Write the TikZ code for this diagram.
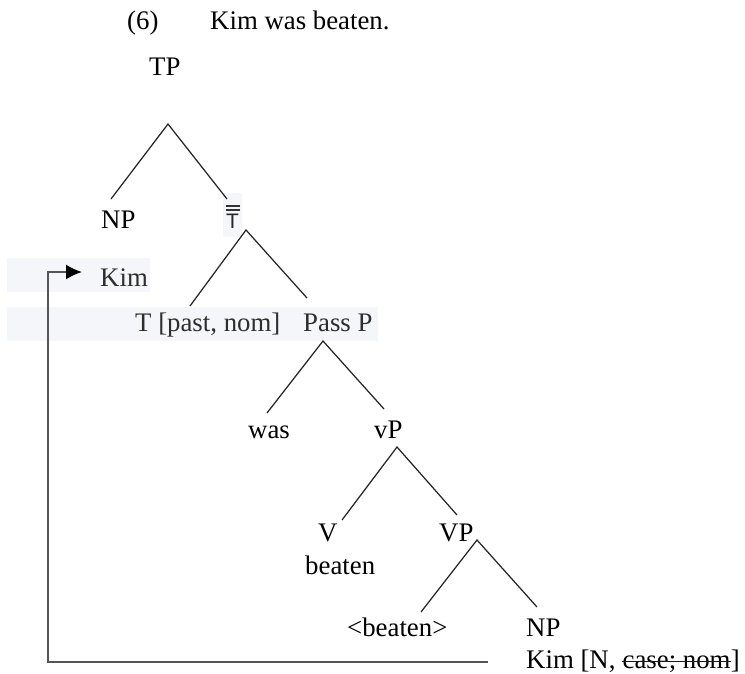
\documentclass[tikz,border=0pt]{standalone}
\usepackage{fontspec}
\setmainfont{Liberation Serif}
\newfontfamily\barfont{Liberation Sans}
\usetikzlibrary{arrows.meta}
\definecolor{bandgrey}{RGB}{245,246,249}
\definecolor{movegrey}{RGB}{85,85,85}

\begin{document}
\begin{tikzpicture}[x=1pt,y=-1pt,
  lbl/.style={anchor=base west,inner sep=0pt,font=\fontsize{26.8}{30}\selectfont,text=black},
  softlbl/.style={lbl,text=black!82},
  branch/.style={draw=black!85,line width=1.25pt},
  barline/.style={draw=black!80,line width=1.6pt},
  strike/.style={draw=black!90,line width=1.3pt},
  movepath/.style={draw=movegrey,line width=1.8pt,
    -{Latex[length=16pt,width=15pt,fill=black,color=black]}}]

\useasboundingbox (0,0) rectangle (745,673);

% light highlight bands behind the moved subject, the T line and T-bar
\fill[bandgrey] (7,258) rectangle (150,292);
\fill[bandgrey] (7,307) rectangle (378,341);
\fill[bandgrey] (223,193) rectangle (242,237);

% example number and sentence
\node[lbl] (ex) at (127,29) {(6)};
\node[lbl] (sent) at (210,29) {Kim was beaten.};

% tree labels
\node[lbl] (tp) at (149,75) {TP};
\node[lbl] (np1) at (101,228) {NP};
\node[lbl,font=\barfont\fontsize{21}{24}\selectfont,text=black!85] (tbar) at (226,228) {T};
\draw[barline] ([yshift=3.5pt,xshift=-0.5pt]tbar.north west) -- ([yshift=3.5pt,xshift=0.5pt]tbar.north east);
\draw[barline] ([yshift=7.5pt,xshift=-0.5pt]tbar.north west) -- ([yshift=7.5pt,xshift=0.5pt]tbar.north east);
\node[softlbl] (kimhi) at (100,286) {Kim};
\node[softlbl] (tpast) at (135,331) {T [past, nom]};
\node[softlbl] (passp) at (303,331) {Pass P};
\node[lbl] (was) at (248,438) {was};
\node[lbl] (vp1) at (374,438) {vP};
\node[lbl] (v) at (318,541) {V};
\node[lbl] (vpbig) at (439,541) {VP};
\node[lbl] (beaten) at (305,574) {beaten};
\node[lbl] (trace) at (347,636) {<beaten>};
\node[lbl] (np2) at (526,636) {NP};

% bottom feature bundle, with the checked case feature struck out
\node[lbl] (kimlo) at (526,668) {Kim [N,\ \mbox{}};
\node[lbl] (kimcase) at (kimlo.base east) {case; nom};
\node[lbl] (kimend) at (kimcase.base east) {]};
\draw[strike] ([yshift=6.5pt]kimcase.base west) -- ([yshift=6.5pt]kimcase.base east);

% branch end points
\coordinate (tp-a) at (168,124);  \coordinate (tp-l) at (111,199);  \coordinate (tp-r) at (227,199);
\coordinate (tb-a) at (246,230);  \coordinate (tb-l) at (190,306);  \coordinate (tb-r) at (307,298);
\coordinate (pp-a) at (323,341);  \coordinate (pp-l) at (267,413);  \coordinate (pp-r) at (384,409);
\coordinate (vs-a) at (397,447);  \coordinate (vs-l) at (342,520);  \coordinate (vs-r) at (457,515);
\coordinate (vb-a) at (477,540);  \coordinate (vb-l) at (421,612);  \coordinate (vb-r) at (537,607);

\draw[branch] (tp-l) -- (tp-a) -- (tp-r);
\draw[branch] (tb-l) -- (tb-a) -- (tb-r);
\draw[branch] (pp-l) -- (pp-a) -- (pp-r);
\draw[branch] (vs-l) -- (vs-a) -- (vs-r);
\draw[branch] (vb-l) -- (vb-a) -- (vb-r);

% movement of the object NP to subject position
\coordinate (mv-start) at (488,662);
\coordinate (mv-corner) at (48,272);
\coordinate (mv-end) at (82,272);
\draw[movepath] (mv-start) -| (mv-corner) -- (mv-end);
\end{tikzpicture}
\end{document}
